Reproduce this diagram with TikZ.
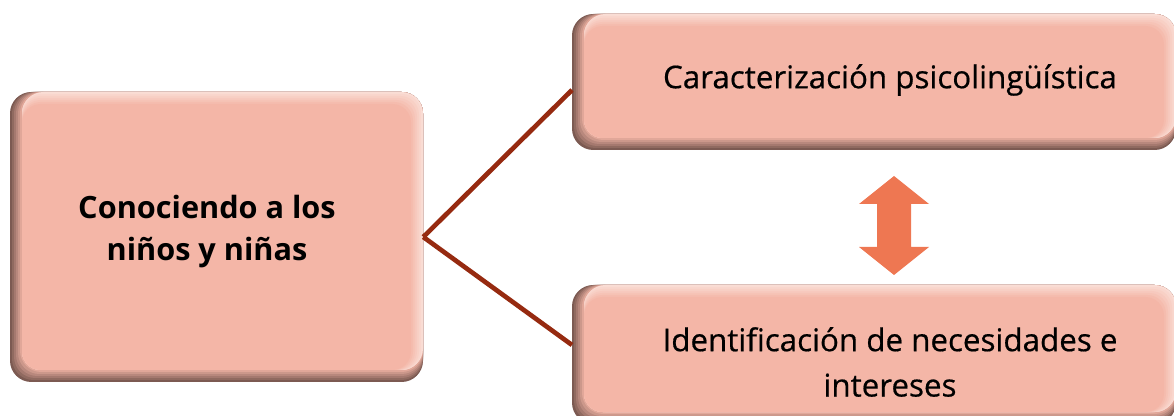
\documentclass[tikz,border=0pt]{standalone}
\usepackage{fontspec}
\setmainfont{Open Sans}
\newfontfamily\semifont[FakeBold=0.5]{Open Sans}
\usetikzlibrary{fit}
\definecolor{face}{HTML}{F4B6A7}
\definecolor{bevdark}{HTML}{7C5A52}
\definecolor{bevlight}{HTML}{FADDD5}
\definecolor{linkc}{HTML}{962A10}
\definecolor{arrc}{HTML}{EE7752}
\newcommand{\bevbox}[4]{%
  \fill[bevdark, rounded corners=16pt] (#1,#2) rectangle (#3,#4);
  \foreach \i in {1,...,5}{
    \pgfmathtruncatemacro\pp{100-\i*100/6}
    \fill[color=bevdark!\pp!face, rounded corners=16pt] (#1+2*\i,#2) rectangle (#3,#4-2*\i);
  }
  \fill[bevlight, rounded corners=16pt] (#1+12,#2) rectangle (#3,#4-12);
  \foreach \j in {1,...,6}{
    \pgfmathtruncatemacro\qq{100-\j*100/6}
    \fill[color=bevlight!\qq!face, rounded corners=14pt] (#1+12,#2+2*\j) rectangle (#3-2*\j,#4-12);
  }
}
\tikzset{
  boxfit/.style={inner sep=0pt, draw=none},
  lbl/.style={align=center, inner sep=0pt, font=\semifont\fontsize{23.5}{34}\selectfont},
  link/.style={draw=linkc, line width=3.5pt}
}
\begin{document}
\begin{tikzpicture}[x=0.75pt,y=-0.75pt]
\useasboundingbox (0,0) rectangle (1174,416);
\clip (0,0) rectangle (1174,416);
\bevbox{10}{92}{423}{382}
\bevbox{572}{14}{1176}{150}
\bevbox{572}{285}{1176}{424}
\node[boxfit, fit={(10,92) (423,382)}] (L) {};
\node[boxfit, fit={(572,14) (1176,150)}] (T) {};
\node[boxfit, fit={(572,285) (1176,424)}] (B) {};
\node[lbl, font=\fontsize{23}{31.5}\selectfont\bfseries] (Lt) at (207,232) {Conociendo a los\\niños y niñas};
\node[lbl] (Tt) at (890,80) {Caracterización psicolingüística};
\node[lbl] (Bt) at (890,362) {Identificación de necesidades e\\intereses};
\coordinate (Tend) at (572,90);
\coordinate (Bend) at (572,345);
\draw[link] (L.east) -- (Tend);
\draw[link] (L.east) -- (Bend);
\fill[arrc] (894,176) -- (929,204) -- (911,204) -- (911,247) -- (929,247) -- (894,275)
  -- (859,247) -- (877,247) -- (877,204) -- (859,204) -- cycle;
\end{tikzpicture}
\end{document}
